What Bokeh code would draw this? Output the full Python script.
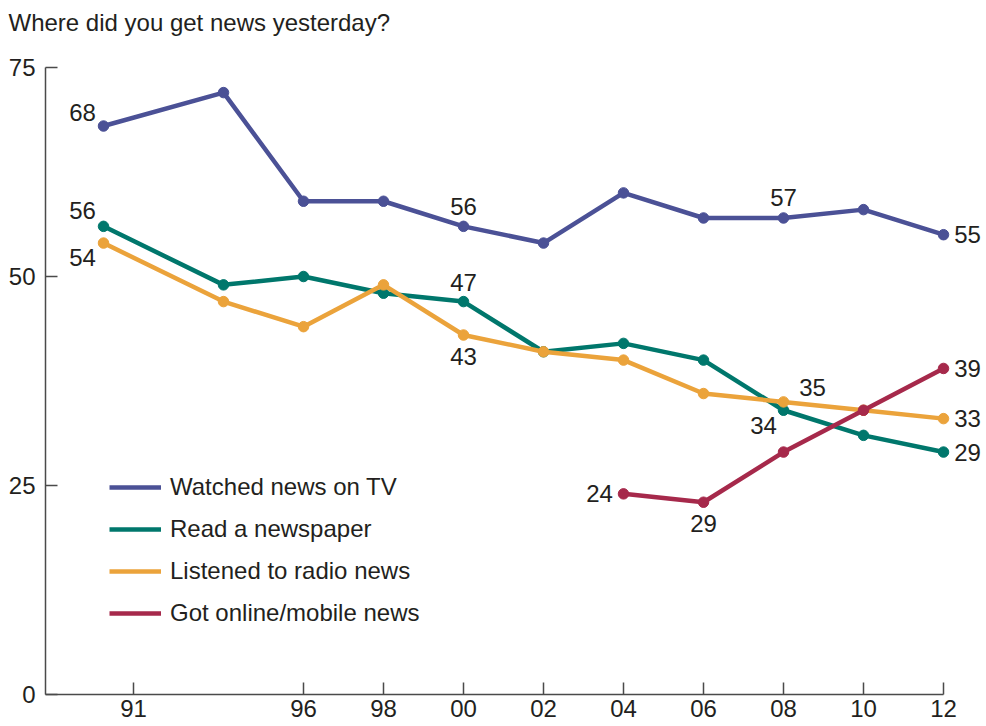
from bokeh.plotting import figure
from bokeh.models import (ColumnDataSource, Range1d, FixedTicker, Legend, LegendItem, LabelSet, Title)
from bokeh.core.properties import value
from bokeh.embed import file_html
from bokeh.resources import INLINE

# ---- data ----
years = [1991, 1994, 1996, 1998, 2000, 2002, 2004, 2006, 2008, 2010, 2012]
tv = [68, 72, 59, 59, 56, 54, 60, 57, 57, 58, 55]
newspaper = [56, 49, 50, 48, 47, 41, 42, 40, 34, 31, 29]
radio = [54, 47, 44, 49, 43, 41, 40, 36, 35, 34, 33]
years_online = [2004, 2006, 2008, 2010, 2012]
online = [24, 23, 29, 34, 39]

series_names = ["Watched news on TV", "Read a newspaper", "Listened to radio news", "Got online/mobile news"]

tick_positions = [1991.75, 1996, 1998, 2000, 2002, 2004, 2006, 2008, 2010, 2012]
tick_labels = ["91", "96", "98", "00", "02", "04", "06", "08", "10", "12"]
y_ticks = [0, 25, 50, 75]

# labelled points: (series, year, text shown)
label_series = ["tv", "tv", "tv", "tv", "news", "radio", "news", "radio", "radio", "news", "radio", "news", "online", "online", "online"]
label_years = [1991, 2000, 2008, 2012, 1991, 1991, 2000, 2000, 2008, 2008, 2012, 2012, 2012, 2004, 2006]
label_texts = ["68", "56", "57", "55", "56", "54", "47", "43", "35", "34", "33", "29", "39", "24", "29"]

# ---- styling ----
colors = {"tv": "#4b5196", "news": "#00776c", "radio": "#eba33b", "online": "#a6294b"}
label_dx = [-21, 0, 0, 24, -21, -21, 0, 0, 29, -20, 24, 24, 24, -24, 0]
label_dy = [14, 20, 20, 0, 16, -14, 19, -21, 14, -15, 0, 0, 0, 0, -21]
FONT = "Liberation Sans"
FS = "24px"
TXT = "#231f20"
AX = "#4a4a4a"

data = {
    "tv": (years, tv),
    "news": (years, newspaper),
    "radio": (years, radio),
    "online": (years_online, online),
}

X0 = 1989.55
p = figure(width=986, height=726, output_backend="svg", toolbar_location=None,
           x_range=Range1d(X0, 2013.075), y_range=Range1d(0, 75),
           min_border_left=45, min_border_right=0, min_border_top=67, min_border_bottom=32)
p.outline_line_color = None
p.grid.visible = False
p.background_fill_color = "white"

p.title.text = "Where did you get news yesterday?"
p.title.text_font = FONT
p.title.text_font_size = FS
p.title.text_font_style = "normal"
p.title.text_color = TXT
p.title.align = "left"
p.title.offset = -37
p.title.standoff = 6

# blank spacer between the title and the plot frame
spacer = Title(text=" ", text_font=FONT, text_font_size="24px", standoff=0)
p.add_layout(spacer, "above")

line_renderers = []
for key in ["tv", "news", "radio", "online"]:
    xs, ys = data[key]
    src = ColumnDataSource(dict(x=xs, y=ys))
    r = p.line("x", "y", source=src, line_color=colors[key], line_width=4.5)
    p.scatter("x", "y", source=src, size=10.5, fill_color=colors[key], line_color=colors[key])
    line_renderers.append(r)

lookup = {k: dict(zip(*data[k])) for k in data}
lab_src = ColumnDataSource(dict(
    x=label_years,
    y=[lookup[s][yr] for s, yr in zip(label_series, label_years)],
    text=label_texts, dx=label_dx, dy=label_dy))
labels = LabelSet(x="x", y="y", text="text", x_offset="dx", y_offset="dy", source=lab_src,
                  text_align="center", text_baseline="middle", text_font=value(FONT),
                  text_font_size=value(FS), text_color=TXT)
p.add_layout(labels)

# axes
for ax in (p.xaxis[0], p.yaxis[0]):
    ax.axis_line_color = AX
    ax.axis_line_width = 1.5
    ax.major_tick_line_color = AX
    ax.major_tick_line_width = 1.5
    ax.major_tick_in = 12
    ax.major_tick_out = 0
    ax.minor_tick_in = 0
    ax.minor_tick_out = 0
    ax.major_label_text_font = FONT
    ax.major_label_text_font_size = FS
    ax.major_label_text_color = TXT

p.xaxis.ticker = FixedTicker(ticks=tick_positions)
p.xaxis.major_label_overrides = {t: l for t, l in zip(tick_positions, tick_labels)}
p.xaxis.bounds = (X0, 2012)
p.xaxis.major_label_standoff = 5
p.yaxis.ticker = FixedTicker(ticks=y_ticks)
p.yaxis.bounds = (0, 75)
p.yaxis.major_label_standoff = 10

legend = Legend(items=[LegendItem(label=n, renderers=[r]) for n, r in zip(series_names, line_renderers)],
                location=(64, 60), glyph_width=52, glyph_height=42, label_height=42, spacing=0,
                padding=0, margin=0, label_standoff=9, label_text_font=FONT,
                label_text_font_size=FS, label_text_color=TXT, label_text_baseline="middle",
                border_line_color=None, background_fill_alpha=0)
p.add_layout(legend)

open("out.html", "w").write(file_html(p, INLINE))
